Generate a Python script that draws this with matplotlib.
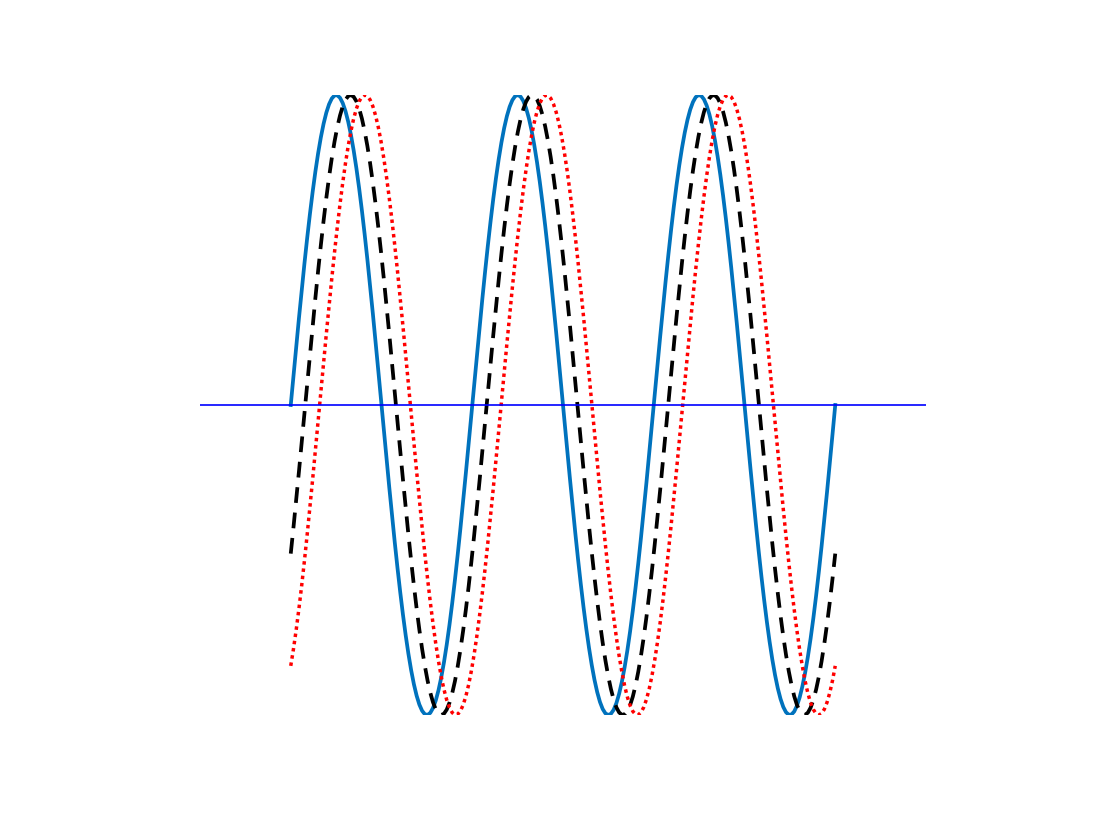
import numpy as np
import matplotlib
matplotlib.use("Agg")
import matplotlib.pyplot as plt

# three sine waves over three periods, shifted in phase
n_periods = 3
phases = [0.0, 0.5, 1.0]          # solid, dashed, dotted (radians)
colors = ['#0072BD', 'black', 'red']
styles = ['-', (0, (4.2, 2.6)), (0, (1.0, 1.1))]
widths = [2.7, 2.7, 2.5]
x_limits = [-np.pi, 7 * np.pi]
baseline = 0.0

x = np.linspace(0, 2 * np.pi * n_periods, 200)

fig = plt.figure(figsize=(11.2, 8.4), dpi=100)
ax = fig.add_axes([200 / 1120, 1 - 715 / 840, 726 / 1120, 620 / 840])

for ph, c, ls, lw in zip(phases, colors, styles, widths):
    ax.plot(x, np.sin(x - ph), color=c, linestyle=ls, linewidth=lw)

ax.axhline(baseline, color='#0000FF', linewidth=1.2)

ax.set_xlim(x_limits)
ax.set_ylim(-1, 1)
ax.axis('off')

fig.savefig("out.png", dpi=100)
